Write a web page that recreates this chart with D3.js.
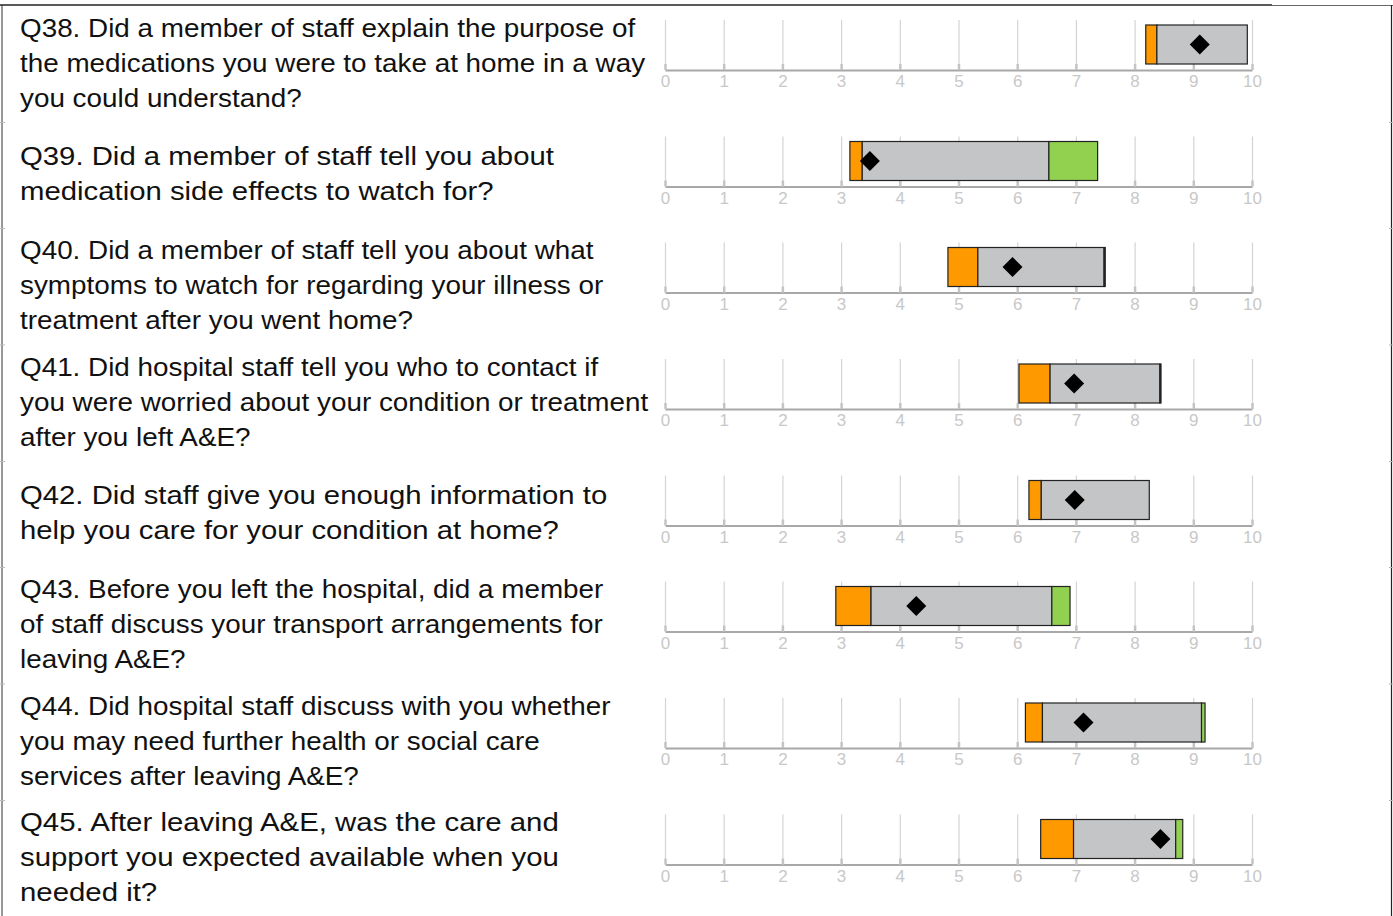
<!DOCTYPE html>
<html>
<head>
<meta charset="utf-8">
<script src="https://d3js.org/d3.v7.min.js"></script>
<style>
  body { margin: 0; background: #fff; }
  .q text { font-family: "Liberation Sans", Arial, sans-serif; font-size: 25.5px; fill: #111; }
  .axis text { font-family: "Liberation Sans", Arial, sans-serif; font-size: 17px; fill: #c8c8c8; }
  .axis .domain { stroke: #a8a8a8; stroke-width: 2px; }
  .axis .tick line { stroke: #d4d4d4; stroke-width: 1.2px; }
</style>
</head>
<body>
<script>

// question text, one entry per row (each entry = its wrapped lines)
var questions = [
  ["Q38. Did a member of staff explain the purpose of", "the medications you were to take at home in a way", "you could understand?"],
  ["Q39. Did a member of staff tell you about", "medication side effects to watch for?"],
  ["Q40. Did a member of staff tell you about what", "symptoms to watch for regarding your illness or", "treatment after you went home?"],
  ["Q41. Did hospital staff tell you who to contact if", "you were worried about your condition or treatment", "after you left A&E?"],
  ["Q42. Did staff give you enough information to", "help you care for your condition at home?"],
  ["Q43. Before you left the hospital, did a member", "of staff discuss your transport arrangements for", "leaving A&E?"],
  ["Q44. Did hospital staff discuss with you whether", "you may need further health or social care", "services after leaving A&E?"],
  ["Q45. After leaving A&E, was the care and", "support you expected available when you", "needed it?"]
];

// range bands (lowest, lower threshold, upper threshold, highest) and trust score
var lowest   = [8.19, 3.15, 4.82, 6.03, 6.20, 2.91, 6.14, 6.40];
var lowerT   = [8.38, 3.36, 5.33, 6.56, 6.41, 3.51, 6.43, 6.96];
var upperT   = [9.92, 6.54, 7.48, 8.43, 8.25, 6.59, 9.14, 8.70];
var highest  = [9.92, 7.37, 7.50, 8.45, 8.25, 6.90, 9.20, 8.82];
var score    = [9.11, 3.49, 5.92, 6.97, 6.98, 4.28, 7.13, 8.44];

var tickValues = [0, 1, 2, 3, 4, 5, 6, 7, 8, 9, 10];

var W = 1393, H = 916;
var top0 = 6;
// question text is drawn a bit wide in the original, some rows wider still
var textStretch = [1.092, 1.15, 1.092, 1.092, 1.149, 1.092, 1.092, 1.152];

var svg = d3.select("body").append("svg")
  .attr("width", W)
  .attr("height", H);

var x = d3.scaleLinear().domain([0, 10]).range([665, 1252]);

// row tops: three-line rows are taller than two-line ones
var rowTops = [], y0 = top0;
questions.forEach(function(q) {
  rowTops.push(y0);
  y0 += q.length === 3 ? 116.5 : 106;
});

// frame
svg.append("line").attr("x1", 0).attr("x2", 1272).attr("y1", 5).attr("y2", 5)
  .attr("stroke", "#222").attr("stroke-width", 1.5);
svg.append("line").attr("x1", 1272).attr("x2", W).attr("y1", 5.5).attr("y2", 5.5)
  .attr("stroke", "#666").attr("stroke-width", 1);
svg.append("line").attr("x1", 2).attr("x2", 2).attr("y1", 5).attr("y2", H)
  .attr("stroke", "#333").attr("stroke-width", 1);
svg.append("line").attr("x1", W - 1.5).attr("x2", W - 1.5).attr("y1", 5).attr("y2", H)
  .attr("stroke", "#222").attr("stroke-width", 1.2);

rowTops.slice(1).forEach(function(t) {
  svg.append("line").attr("x1", 0).attr("x2", 5).attr("y1", t).attr("y2", t)
    .attr("stroke", "#bbb").attr("stroke-width", 1);
  svg.append("line").attr("x1", W - 4).attr("x2", W).attr("y1", t).attr("y2", t)
    .attr("stroke", "#bbb").attr("stroke-width", 1);
});

var rows = svg.selectAll(".row")
  .data(questions)
  .enter().append("g")
  .attr("class", "row")
  .attr("transform", function(d, i) { return "translate(0," + rowTops[i] + ")"; });

// question text
rows.append("g").attr("class", "q")
  .attr("transform", function(d, i) { return "translate(20,0) scale(" + textStretch[i] + ",1)"; })
  .each(function(lines) {
    var h = lines.length === 3 ? 116.5 : 106;
    var first = h / 2 - (lines.length - 1) * 35 / 2 - 1.5;
    d3.select(this).selectAll("text")
      .data(lines)
      .enter().append("text")
      .attr("x", 0)
      .attr("y", function(l, j) { return first + j * 35; })
      .attr("dy", "0.35em")
      .text(function(l) { return l; });
  });

// axis with gridlines
var axisY = 64;
rows.append("g")
  .attr("class", "axis")
  .attr("transform", "translate(0," + axisY + ")")
  .call(d3.axisBottom(x).tickValues(tickValues).tickSizeInner(-50).tickSizeOuter(0).tickPadding(5))
  .call(function(g) {
    g.selectAll(".tick").append("line")
      .attr("class", "stub")
      .attr("y1", 0).attr("y2", -6)
      .style("stroke", "#c4c4c4").style("stroke-width", "2.5px");
  });

var barTop = 19, barH = 39;

// orange segment
rows.append("rect")
  .attr("x", function(d, i) { return x(lowest[i]); })
  .attr("y", barTop)
  .attr("width", function(d, i) { return x(lowerT[i]) - x(lowest[i]); })
  .attr("height", barH)
  .attr("fill", "#ff9900")
  .attr("stroke", "#222").attr("stroke-width", 1.2);

// grey segment
rows.append("rect")
  .attr("x", function(d, i) { return x(lowerT[i]); })
  .attr("y", barTop)
  .attr("width", function(d, i) { return x(upperT[i]) - x(lowerT[i]); })
  .attr("height", barH)
  .attr("fill", "#c4c5c7")
  .attr("stroke", "#222").attr("stroke-width", 1.2);

// green segment
rows.filter(function(d, i) { return highest[i] > upperT[i]; })
  .append("rect")
  .attr("x", function(d) { return x(upperT[questions.indexOf(d)]); })
  .attr("y", barTop)
  .attr("width", function(d) { var i = questions.indexOf(d); return x(highest[i]) - x(upperT[i]); })
  .attr("height", barH)
  .attr("fill", "#92d050")
  .attr("stroke", "#222").attr("stroke-width", 1.2);

// score diamond
rows.append("path")
  .attr("d", "M0,-10L10,0L0,10L-10,0Z")
  .attr("transform", function(d, i) { return "translate(" + x(score[i]) + "," + (barTop + barH / 2) + ")"; })
  .attr("fill", "#000");

</script>
</body>
</html>
